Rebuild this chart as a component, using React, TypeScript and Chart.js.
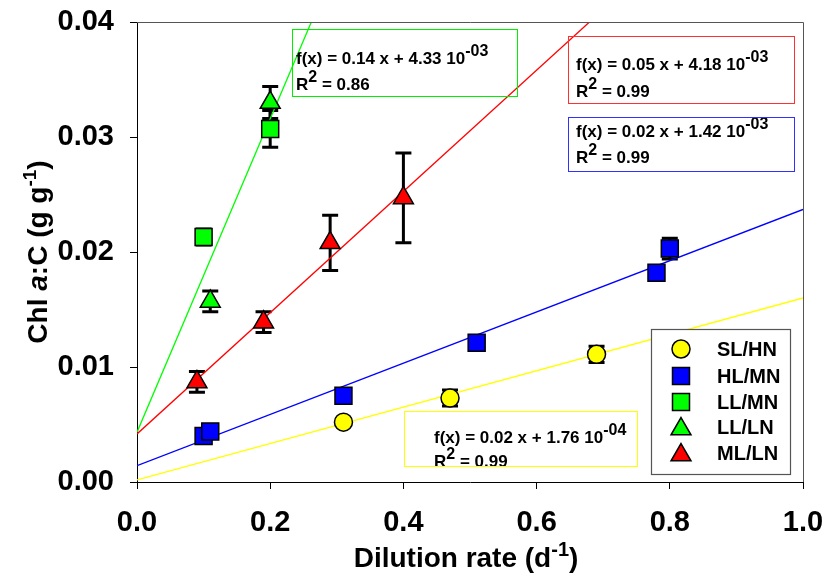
import React, { useEffect, useRef } from 'react';
import { Chart, registerables } from 'chart.js';

Chart.register(...registerables);

const FONT = '"Liberation Sans", Arial, Helvetica, sans-serif';

// ---- axis ticks ----
const xTickValues = [0, 0.2, 0.4, 0.6, 0.8, 1.0];
const yTickValues = [0, 0.01, 0.02, 0.03, 0.04];

// ---- legend ----
const seriesNames = ['SL/HN', 'HL/MN', 'LL/MN', 'LL/LN', 'ML/LN'];
const seriesColors = ['#ffff00', '#0000ff', '#00ff00', '#00ff00', '#ff0000'];
const seriesShapes = ['circle', 'rect', 'rect', 'triangle', 'triangle'];

// ---- data (dilution rate, Chl a:C, error) ----
const slhnX = [0.31, 0.47, 0.69];
const slhnY = [0.0052, 0.0073, 0.0111];
const slhnErr = [0, 0.0007, 0.0007];

const hlmnX = [0.10, 0.11, 0.31, 0.51, 0.78, 0.80];
const hlmnY = [0.0040, 0.0044, 0.0075, 0.0121, 0.0182, 0.0203];
const hlmnErr = [0, 0, 0, 0, 0, 0.0009];

const llmnX = [0.10, 0.20];
const llmnY = [0.0213, 0.0307];
const llmnErr = [0.0007, 0.0016];

const lllnX = [0.11, 0.20];
const lllnY = [0.0157, 0.0330];
const lllnErr = [0.0009, 0.0014];

const mllnX = [0.09, 0.19, 0.29, 0.40];
const mllnY = [0.0087, 0.0139, 0.0208, 0.0247];
const mllnErr = [0.0009, 0.0009, 0.0024, 0.0039];

// ---- regression lines (end points) ----
const fitX = [0, 1];
const fitYellowY = [0.000176, 0.0160];
const fitBlueY = [0.00142, 0.0237];
const fitRedY = [0.00418, 0.0569];
const fitGreenY = [0.00433, 0.1406];

// ---- equation boxes ----
const eqMain = ['f(x) = 0.14 x + 4.33 10', 'f(x) = 0.05 x + 4.18 10', 'f(x) = 0.02 x + 1.42 10', 'f(x) = 0.02 x + 1.76 10'];
const eqExp = ['-03', '-03', '-03', '-04'];
const eqR2 = ['0.86', '0.99', '0.99', '0.99'];
const eqColors = ['#00ee00', '#ff3030', '#3030ff', '#ffff00'];

const toPts = (xs: number[], ys: number[]) => xs.map((x, i) => ({ x, y: ys[i] }));

type Part = { t: string; sup?: boolean; italic?: boolean };

function drawRich(ctx: CanvasRenderingContext2D, x: number, y: number, parts: Part[], size: number, supSize: number, rise: number) {
  let cx = x;
  for (const p of parts) {
    const fs = p.sup ? supSize : size;
    ctx.font = `${p.italic ? 'italic ' : ''}bold ${fs}px ${FONT}`;
    ctx.fillText(p.t, cx, p.sup ? y - rise : y);
    cx += ctx.measureText(p.t).width;
  }
  return cx - x;
}

function measureRich(ctx: CanvasRenderingContext2D, parts: Part[], size: number, supSize: number) {
  let w = 0;
  for (const p of parts) {
    const fs = p.sup ? supSize : size;
    ctx.font = `${p.italic ? 'italic ' : ''}bold ${fs}px ${FONT}`;
    w += ctx.measureText(p.t).width;
  }
  return w;
}

function drawMarker(ctx: CanvasRenderingContext2D, shape: string, x: number, y: number, color: string) {
  ctx.save();
  ctx.fillStyle = color;
  ctx.strokeStyle = '#000';
  ctx.lineWidth = 1.5;
  ctx.beginPath();
  if (shape === 'circle') {
    ctx.arc(x, y, 9, 0, Math.PI * 2);
  } else if (shape === 'rect') {
    ctx.rect(x - 8.5, y - 8.5, 17, 17);
  } else {
    const r = 11.5;
    ctx.moveTo(x, y - r);
    ctx.lineTo(x + r * 0.866, y + r / 2);
    ctx.lineTo(x - r * 0.866, y + r / 2);
    ctx.closePath();
  }
  ctx.fill();
  ctx.stroke();
  ctx.restore();
}

const errorBarPlugin = {
  id: 'errorBars',
  beforeDatasetsDraw(chart: any) {
    const ctx: CanvasRenderingContext2D = chart.ctx;
    const xs = chart.scales.x;
    const ys = chart.scales.y;
    ctx.save();
    ctx.strokeStyle = '#000';
    ctx.lineWidth = 3;
    chart.data.datasets.forEach((ds: any) => {
      if (!ds.errors) return;
      ds.data.forEach((p: any, i: number) => {
        const e = ds.errors[i];
        if (!e) return;
        const px = xs.getPixelForValue(p.x);
        const top = ys.getPixelForValue(p.y + e);
        const bot = ys.getPixelForValue(p.y - e);
        ctx.beginPath();
        ctx.moveTo(px, top);
        ctx.lineTo(px, bot);
        ctx.moveTo(px - 8, top);
        ctx.lineTo(px + 8, top);
        ctx.moveTo(px - 8, bot);
        ctx.lineTo(px + 8, bot);
        ctx.stroke();
      });
    });
    ctx.restore();
  },
};

const decorPlugin = {
  id: 'decor',
  afterDraw(chart: any) {
    const ctx: CanvasRenderingContext2D = chart.ctx;
    const a = chart.chartArea;
    ctx.save();
    // top & right frame
    ctx.strokeStyle = '#555';
    ctx.lineWidth = 1;
    ctx.beginPath();
    ctx.moveTo(a.left, a.top + 0.5);
    ctx.lineTo(a.right + 0.5, a.top + 0.5);
    ctx.lineTo(a.right + 0.5, a.bottom);
    ctx.stroke();

    // equation boxes
    const boxes = [
      { x: 292, y: 29, w: 225, h: 67, tx: 296, b1: 64, b2: 90 },
      { x: 568, y: 36, w: 226, h: 67, tx: 576, b1: 70, b2: 97 },
      { x: 568, y: 117, w: 226, h: 54, tx: 576, b1: 137, b2: 163 },
      { x: 404, y: 411, w: 233, h: 55, tx: 434, b1: 443, b2: 467 },
    ];
    boxes.forEach((b, i) => {
      ctx.fillStyle = '#000';
      ctx.textAlign = 'left';
      ctx.textBaseline = 'alphabetic';
      drawRich(ctx, b.tx, b.b1, [{ t: eqMain[i] }, { t: eqExp[i], sup: true }], 17, 16, 8);
      drawRich(ctx, b.tx, b.b2, [{ t: 'R' }, { t: '2', sup: true }, { t: ' = ' + eqR2[i] }], 17, 16, 8);
      ctx.strokeStyle = eqColors[i];
      ctx.lineWidth = 1;
      ctx.strokeRect(b.x + 0.5, b.y + 0.5, b.w, b.h);
    });

    // legend
    ctx.strokeStyle = '#555';
    ctx.lineWidth = 1.2;
    ctx.fillStyle = '#fff';
    ctx.fillRect(651, 329, 139, 145);
    ctx.strokeRect(651.5, 329.5, 139, 145);
    const rows = [349, 376, 402, 427, 453];
    seriesNames.forEach((n, i) => {
      const yy = rows[i];
      drawMarker(ctx, seriesShapes[i], 681, seriesShapes[i] === 'triangle' ? yy + 2 : yy, seriesColors[i]);
      ctx.fillStyle = '#000';
      ctx.font = `bold 20px ${FONT}`;
      ctx.textAlign = 'left';
      ctx.textBaseline = 'middle';
      ctx.fillText(n, 717, yy + 1);
    });

    // x title
    ctx.fillStyle = '#000';
    ctx.textBaseline = 'alphabetic';
    const xParts: Part[] = [{ t: 'Dilution rate (d' }, { t: '-1', sup: true }, { t: ')' }];
    const xw = measureRich(ctx, xParts, 28, 20);
    drawRich(ctx, 466 - xw / 2, 567, xParts, 28, 20, 11);

    // y title
    const yParts: Part[] = [{ t: 'Chl ' }, { t: 'a', italic: true }, { t: ':C (g g' }, { t: '-1', sup: true }, { t: ')' }];
    const yw = measureRich(ctx, yParts, 28, 19);
    ctx.translate(47, 252);
    ctx.rotate(-Math.PI / 2);
    drawRich(ctx, -yw / 2, 0, yParts, 28, 19, 11);
    ctx.restore();
  },
};

const noScalePadding = (s: any) => {
  s.paddingLeft = 0;
  s.paddingRight = 0;
  s.paddingTop = 0;
  s.paddingBottom = 0;
};

export default function App() {
  const ref = useRef<HTMLCanvasElement | null>(null);

  useEffect(() => {
    if (!ref.current) return;
    const pointDs = (label: string, xs: number[], ys: number[], errs: number[], color: string, shape: string, r: number) => ({
      label,
      data: toPts(xs, ys),
      errors: errs,
      backgroundColor: color,
      borderColor: '#000',
      borderWidth: 1.5,
      pointStyle: shape,
      pointRadius: r,
      showLine: false,
    });
    const lineDs = (ys: number[], color: string) => ({
      label: '',
      data: toPts(fitX, ys),
      showLine: true,
      borderColor: color,
      borderWidth: 1.3,
      pointRadius: 0,
      fill: false,
    });

    const chart = new Chart(ref.current, {
      type: 'scatter',
      data: {
        datasets: [
          pointDs(seriesNames[0], slhnX, slhnY, slhnErr, seriesColors[0], seriesShapes[0], 9),
          pointDs(seriesNames[1], hlmnX, hlmnY, hlmnErr, seriesColors[1], seriesShapes[1], 12),
          pointDs(seriesNames[2], llmnX, llmnY, llmnErr, seriesColors[2], seriesShapes[2], 12),
          pointDs(seriesNames[3], lllnX, lllnY, lllnErr, seriesColors[3], seriesShapes[3], 11.5),
          pointDs(seriesNames[4], mllnX, mllnY, mllnErr, seriesColors[4], seriesShapes[4], 11.5),
          lineDs(fitYellowY, '#ffff00'),
          lineDs(fitBlueY, '#0000ff'),
          lineDs(fitRedY, '#ff0000'),
          lineDs(fitGreenY, '#00ff00'),
        ] as any,
      },
      options: {
        responsive: false,
        animation: false,
        devicePixelRatio: 1,
        events: [],
        layout: { padding: { top: 22, right: 19, left: 0, bottom: 0 } },
        plugins: { legend: { display: false }, tooltip: { enabled: false }, title: { display: false } },
        scales: {
          x: {
            type: 'linear',
            min: 0,
            max: 1,
            afterFit: (s: any) => { s.height = 92; noScalePadding(s); },
            afterBuildTicks: (s: any) => { s.ticks = xTickValues.map((v) => ({ value: v })); },
            ticks: {
              color: '#000',
              padding: 17,
              maxRotation: 0,
              autoSkip: false,
              font: { family: FONT, size: 29, weight: 'bold' },
              callback: (v: any) => Number(v).toFixed(1),
            },
            grid: { display: true, drawOnChartArea: false, drawTicks: true, tickLength: 7, color: '#000' },
            border: { display: true, color: '#000', width: 1 },
          },
          y: {
            type: 'linear',
            min: 0,
            max: 0.04,
            afterFit: (s: any) => { s.width = 137; noScalePadding(s); },
            afterBuildTicks: (s: any) => { s.ticks = yTickValues.map((v) => ({ value: v })); },
            ticks: {
              color: '#000',
              padding: 16,
              autoSkip: false,
              font: { family: FONT, size: 29, weight: 'bold' },
              callback: (v: any) => Number(v).toFixed(2),
            },
            grid: { display: true, drawOnChartArea: false, drawTicks: true, tickLength: 7, color: '#000' },
            border: { display: true, color: '#000', width: 1 },
          },
        },
      } as any,
      plugins: [errorBarPlugin, decorPlugin],
    });
    return () => chart.destroy();
  }, []);

  return (
    <div style={{ position: 'absolute', left: 0, top: 0, width: 822, height: 574, background: '#fff' }}>
      <canvas ref={ref} width={822} height={574} style={{ display: 'block', width: 822, height: 574 }} />
    </div>
  );
}
